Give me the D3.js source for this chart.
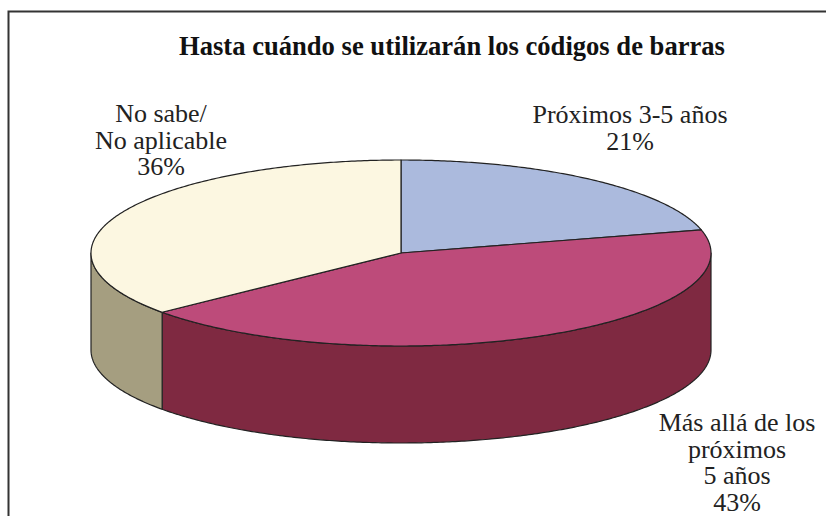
<!DOCTYPE html>
<html lang='es'>
    <head>
        <meta charset="utf-8">
        <title>D3 | Pie 3D</title>
        <script src='https://d3js.org/d3.v7.min.js'></script>
        <style>
            body { margin: 0; background: #fff; }
            svg text, svg tspan { font-family: 'Liberation Serif', 'Times New Roman', serif; }
        </style>
    </head>
    <body>
        <script type='text/javascript'>
            // data
            var categories = ['Próximos 3-5 años', 'Más allá de los próximos 5 años', 'No sabe/ No aplicable'];
            var values = [21, 43, 36];
            var labelLines = [
                ['Próximos 3-5 años', '21%'],
                ['Más allá de los', 'próximos', '5 años', '43%'],
                ['No sabe/', 'No aplicable', '36%']
            ];

            var w = 826;
            var h = 516;

            var topColors  = ['#abbadd', '#bd4b7a', '#fcf7e1'];
            var sideColors = ['#7a88a8', '#7f2941', '#a59e80'];

            // where the labels sit (centre x, first baseline)
            var labelPos = [[630, 123], [737, 431], [161, 122]];

            // ellipse geometry
            var cx = 401, cy = 253, rx = 310, ry = 93, depth = 97;

            var svg = d3.select('body')
                        .append('svg')
                        .attr('width', w)
                        .attr('height', h);

            // frame (left and top only are visible)
            svg.append('path')
                .attr('d', 'M8.5,516 L8.5,11.5 L826,11.5')
                .attr('fill', 'none')
                .attr('stroke', '#333')
                .attr('stroke-width', 2);

            svg.append('text')
                .text('Hasta cuándo se utilizarán los códigos de barras')
                .attr('x', 452)
                .attr('y', 55)
                .attr('text-anchor', 'middle')
                .style('font-family', "'Liberation Serif', 'Times New Roman', serif")
                .attr('font-weight', 'bold')
                .attr('font-size', '26.6px')
                .attr('fill', '#111');

            var pie = d3.pie().sort(null).value(function(d){ return d; });
            var arcs = pie(values);

            function pt(a, dy) {
                return [cx + rx * Math.sin(a), cy - ry * Math.cos(a) + (dy || 0)];
            }
            function arcPts(a0, a1, dy) {
                var n = Math.max(2, Math.ceil(Math.abs(a1 - a0) / 0.01));
                return d3.range(n + 1).map(function(i){
                    return pt(a0 + (a1 - a0) * i / n, dy);
                });
            }
            var line = d3.line();

            // side walls, only the front half shows
            svg.selectAll('path.side')
                .data(arcs)
                .enter()
                .filter(function(d){
                    return Math.min(d.endAngle, 1.5 * Math.PI) > Math.max(d.startAngle, 0.5 * Math.PI);
                })
                .append('path')
                .attr('class', 'side')
                .attr('d', function(d){
                    var a0 = Math.max(d.startAngle, 0.5 * Math.PI);
                    var a1 = Math.min(d.endAngle, 1.5 * Math.PI);
                    var p = arcPts(a0, a1, 0).concat(arcPts(a1, a0, depth));
                    return line(p) + 'Z';
                })
                .attr('fill', function(d){ return sideColors[d.index]; })
                .attr('stroke', '#222')
                .attr('stroke-width', 1.2)
                .attr('stroke-linejoin', 'round');

            // top faces
            svg.selectAll('path.top')
                .data(arcs)
                .enter()
                .append('path')
                .attr('class', 'top')
                .attr('d', function(d){
                    var p = [[cx, cy]].concat(arcPts(d.startAngle, d.endAngle, 0));
                    return line(p) + 'Z';
                })
                .attr('fill', function(d){ return topColors[d.index]; })
                .attr('stroke', '#222')
                .attr('stroke-width', 1.2)
                .attr('stroke-linejoin', 'round');

            // labels
            var lab = svg.selectAll('text.lab')
                .data(arcs)
                .enter()
                .append('text')
                .attr('class', 'lab')
                .attr('text-anchor', 'middle')
                .style('font-family', "'Liberation Serif', 'Times New Roman', serif")
                .attr('font-size', '26px')
                .attr('fill', '#222');

            lab.selectAll('tspan')
                .data(function(d){ return labelLines[d.index].map(function(t){ return { t: t, i: d.index }; }); })
                .enter()
                .append('tspan')
                .attr('x', function(d){ return labelPos[d.i][0]; })
                .attr('y', function(d, j){ return labelPos[d.i][1] + j * 26.5; })
                .text(function(d){ return d.t; });
        </script>
    </body>
</html>
